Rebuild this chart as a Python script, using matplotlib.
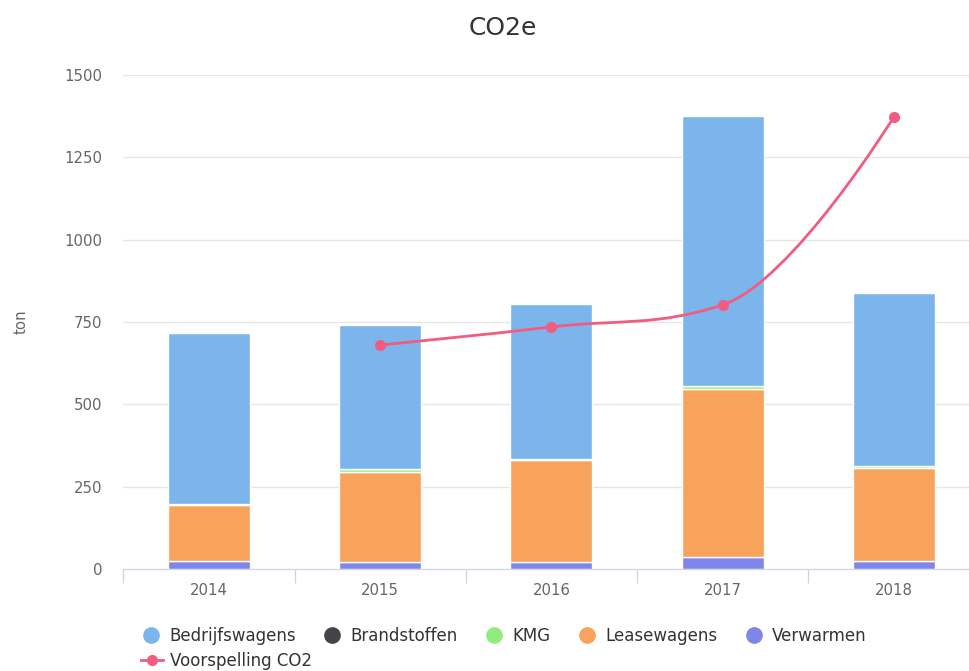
import numpy as np
import matplotlib
matplotlib.use("Agg")
import matplotlib.pyplot as plt
from matplotlib.path import Path
from matplotlib.patches import PathPatch
from matplotlib.lines import Line2D

# categories and series (ton CO2e)
years = ["2014", "2015", "2016", "2017", "2018"]
verwarmen = [25, 20, 20, 37, 23]
leasewagens = [168, 275, 310, 510, 285]
kmg = [3, 8, 5, 10, 5]
brandstoffen = [0, 0, 0, 0, 0]
bedrijfswagens = [520, 437, 470, 818, 525]

# forecast line (starts at 2015)
voorspelling_years = ["2015", "2016", "2017", "2018"]
voorspelling = [680, 735, 802, 1372]

colors = {
    "Bedrijfswagens": "#7cb5ec",
    "Brandstoffen": "#434348",
    "KMG": "#90ed7d",
    "Leasewagens": "#f7a35c",
    "Verwarmen": "#8085e9",
    "Voorspelling CO2": "#f15c80",
}


def spline_path(xs, ys, smoothing=1.5):
    # smooth curve through the points, same idea as a highcharts spline
    n = len(xs)
    left = [None] * n
    right = [None] * n
    denom = smoothing + 1
    for i in range(1, n - 1):
        px, py = xs[i], ys[i]
        lx, ly = xs[i - 1], ys[i - 1]
        nx, ny = xs[i + 1], ys[i + 1]
        lcx = (smoothing * px + lx) / denom
        lcy = (smoothing * py + ly) / denom
        rcx = (smoothing * px + nx) / denom
        rcy = (smoothing * py + ny) / denom
        if rcx != lcx:
            corr = (rcy - lcy) * (rcx - px) / (rcx - lcx) + py - rcy
            lcy += corr
            rcy += corr
        if lcy > max(ly, py):
            lcy = max(ly, py)
            rcy = 2 * py - lcy
        elif lcy < min(ly, py):
            lcy = min(ly, py)
            rcy = 2 * py - lcy
        if rcy > max(py, ny):
            rcy = max(py, ny)
            lcy = 2 * py - rcy
        elif rcy < min(py, ny):
            rcy = min(py, ny)
            lcy = 2 * py - rcy
        left[i] = (lcx, lcy)
        right[i] = (rcx, rcy)
    verts = [(xs[0], ys[0])]
    codes = [Path.MOVETO]
    for i in range(1, n):
        c1 = right[i - 1] if right[i - 1] else (xs[i - 1], ys[i - 1])
        c2 = left[i] if left[i] else (xs[i], ys[i])
        verts += [c1, c2, (xs[i], ys[i])]
        codes += [Path.CURVE4] * 3
    return Path(verts, codes)


fig = plt.figure(figsize=(9.7, 6.71), dpi=100)
ax = fig.add_axes([123.4 / 970, (671 - 569) / 671, 856 / 970, 494 / 671])

x = np.arange(len(years))
w = 0.48
bottom = np.zeros(len(years))
for name, vals in [("Verwarmen", verwarmen), ("Leasewagens", leasewagens),
                   ("KMG", kmg), ("Brandstoffen", brandstoffen),
                   ("Bedrijfswagens", bedrijfswagens)]:
    vals = np.array(vals, dtype=float)
    ax.bar(x, vals, w, bottom=bottom, color=colors[name],
           edgecolor="white", linewidth=1, zorder=2)
    bottom += vals

lx = [years.index(y) for y in voorspelling_years]
ax.add_patch(PathPatch(spline_path(lx, voorspelling), facecolor="none",
                       edgecolor=colors["Voorspelling CO2"], lw=2, zorder=3))
ax.plot(lx, voorspelling, "o", color=colors["Voorspelling CO2"],
        markersize=7, zorder=4)

ax.set_xlim(-0.5, len(years) - 0.5)
ax.set_ylim(0, 1500)
ax.set_yticks([0, 250, 500, 750, 1000, 1250, 1500])
ax.set_xticks(x)
ax.set_xticklabels(years)
ax.set_xticks(np.arange(len(years)) - 0.5, minor=True)
ax.tick_params(axis="x", which="major", length=0, pad=10, labelsize=10.7, labelcolor="#666666")
ax.tick_params(axis="x", which="minor", length=10, color="#ccd6eb", width=1)
ax.tick_params(axis="y", length=0, pad=15, labelsize=10.7, labelcolor="#666666")
ax.grid(axis="y", color="#e6e6e6", lw=1, zorder=0)
ax.set_axisbelow(True)
for s in ["top", "right", "left"]:
    ax.spines[s].set_visible(False)
ax.spines["bottom"].set_color("#ccd6eb")
ax.set_ylabel("ton", color="#666666", fontsize=10.7, labelpad=26)

fig.text(0.518, 1 - 28 / 671, "CO2e", ha="center", va="center",
         fontsize=18, color="#333333")

# legend: five bar series on the first row, forecast line below
names = ["Bedrijfswagens", "Brandstoffen", "KMG", "Leasewagens", "Verwarmen"]
handles = [Line2D([], [], ls="none", marker="o", markersize=11,
                  color=colors[n]) for n in names]
fig.legend(handles, names, loc="center left", ncol=5,
           bbox_to_anchor=(142.7 / 970, 1 - 636 / 671), frameon=False,
           fontsize=12, labelcolor="#333333", handletextpad=0.58,
           columnspacing=1.7, handlelength=1.0, borderaxespad=0, borderpad=0)
line_handle = Line2D([], [], color=colors["Voorspelling CO2"], lw=2,
                     marker="o", markersize=7)
fig.legend([line_handle], ["Voorspelling CO2"], loc="center left",
           bbox_to_anchor=(141 / 970, 1 - 661 / 671), frameon=False,
           fontsize=12, labelcolor="#333333", handletextpad=0.45,
           handlelength=1.3, borderaxespad=0, borderpad=0)

fig.savefig("out.png", dpi=100)
